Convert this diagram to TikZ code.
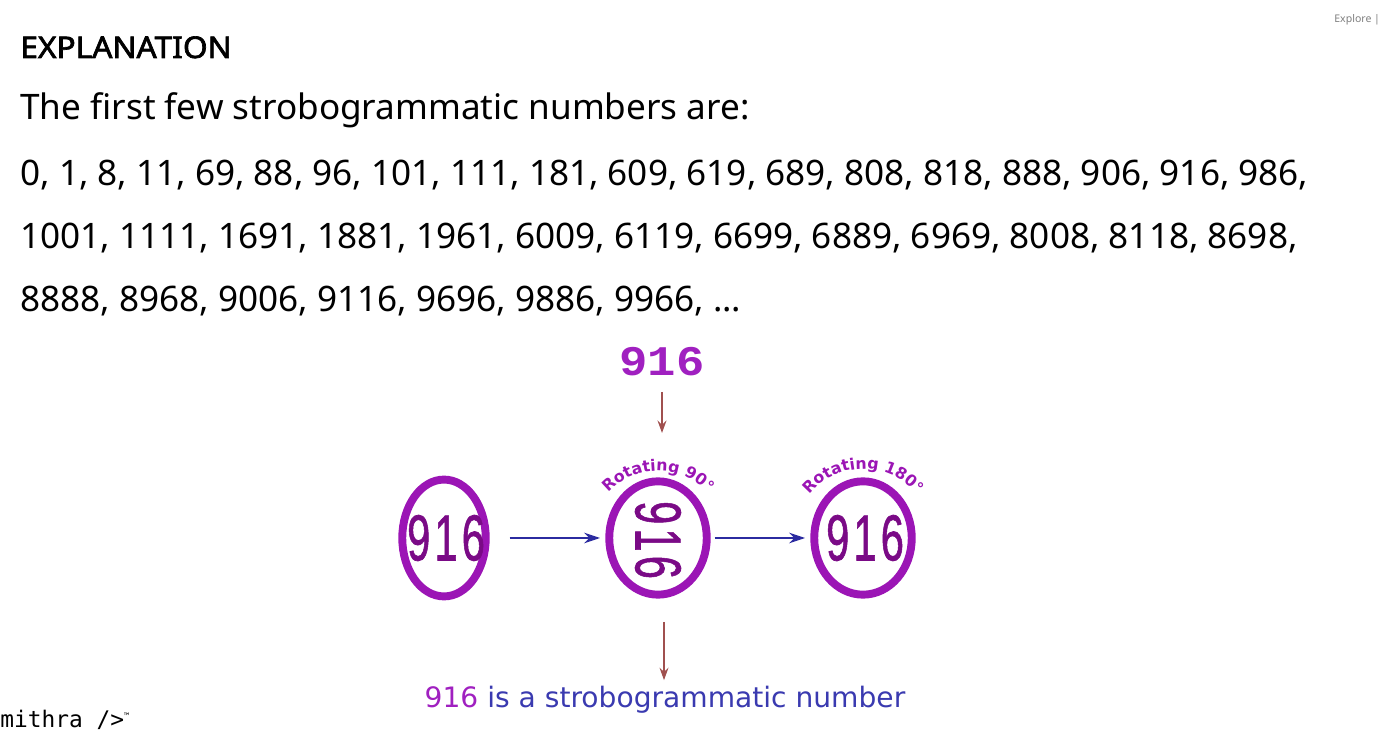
\documentclass[tikz,border=0pt]{standalone}
\usepackage{fontspec}
\setmainfont{Noto Sans}
\newfontfamily\headfont{Noto Sans}[FakeBold=2.2]
\newfontfamily\verdfont{DejaVu Sans}
\newfontfamily\monofont{DejaVu Sans Mono}
\newfontfamily\courfont{Liberation Mono}
\newfontfamily\ringfont{Liberation Sans}[LetterSpace=10,FakeBold=1.2]
\usetikzlibrary{positioning,arrows.meta,shapes.geometric,decorations.text}
\definecolor{ringpurple}{HTML}{9B15B5}
\definecolor{numpurple}{HTML}{7A0A86}
\definecolor{toppurple}{HTML}{A020C0}
\definecolor{arrowblue}{HTML}{2B2BA0}
\definecolor{arrowred}{HTML}{A0504F}
\definecolor{textblue}{HTML}{3A3AB0}
\newcommand{\ringnum}{\makebox[0pt]{\scalebox{0.64}[1]{\ringfont\fontsize{37}{37}\selectfont 916\kern-3.7pt}}}

\begin{document}
\begin{tikzpicture}[x=0.02cm,y=0.02cm,
    line/.style={anchor=base west,inner sep=0pt,font=\fontsize{20}{24}\selectfont},
    ring/.style={ellipse,draw=ringpurple,line width=4.5pt,fill=white,text=numpurple,inner sep=0pt,
      minimum width=55.5pt,minimum height=64.5pt},
    flow/.style={arrowblue,line width=1.3pt,-{Stealth[length=9pt,width=6pt]}},
    down/.style={arrowred,line width=1.2pt,-{Stealth[length=7pt,width=5pt]}}]
  \useasboundingbox (0,0) rectangle (1383,-742);

  \node (title) at (20,-58) [line,font=\headfont\fontsize{17}{20}\selectfont] {\scalebox{1.06}[1]{EXPLANATION}};
  \node (intro) at (20,-120) [line] {The first few strobogrammatic numbers are:};
  \node (row1) at (20,-186) [line] {0, 1, 8, 11, 69, 88, 96, 101, 111, 181, 609, 619, 689, 808, 818, 888, 906, 916, 986,};
  \node (row2) at (20,-249) [line] {1001, 1111, 1691, 1881, 1961, 6009, 6119, 6699, 6889, 6969, 8008, 8118, 8698,};
  \node (row3) at (20,-312) [line] {8888, 8968, 9006, 9116, 9696, 9886, 9966, ...};

  % rotation picture
  \node (top) at (662,-362) [text=toppurple,font=\courfont\bfseries\fontsize{24}{24}\selectfont] {\scalebox{1.12}[1]{916}};
  \node (start) at (444,-538) [ring,minimum width=47.5pt,minimum height=66.5pt] {\ringnum};
  \node (quarter) at (658,-538) [ring] {\rotatebox{-90}{\ringnum}};
  \node (half) at (863,-538) [ring] {\ringnum};
  \coordinate (into) at (662,-392);
  \coordinate (onto) at (662,-433);
  \coordinate (outof) at (664,-622);
  \node (result) at (665,-700) [text=textblue,font=\verdfont\fontsize{16}{18}\selectfont] {\textcolor{toppurple}{916} is a strobogrammatic number};

  \draw[down] (into) -- (onto);
  \draw[down] (outof) -- (outof |- result.north);
  \draw[flow] (start.east) ++(20,0) -- ([xshift=-3pt]quarter.west);
  \draw[flow] (quarter.east) ++(4,0) -- ([xshift=-3pt]half.west);

  \path[decorate,decoration={text along path,text align=center,
      text={|\verdfont\bfseries\fontsize{9}{9}\selectfont\color{ringpurple}|Rotating 90°}}]
      (quarter.center) ++(155:67) arc[start angle=155,end angle=25,radius=67];
  \path[decorate,decoration={text along path,text align=center,
      text={|\verdfont\bfseries\fontsize{9}{9}\selectfont\color{ringpurple}|Rotating 180°}}]
      (half.center) ++(158:69) arc[start angle=158,end angle=22,radius=69];

  % page leftovers
  \node (mark) at (0,-728) [anchor=base west,inner sep=0pt,font=\monofont\fontsize{13}{13}\selectfont] {mithra />\raisebox{5pt}{\fontsize{5}{5}\selectfont ™}};
  \node (menu) at (1334,-20) [anchor=west,inner sep=0pt,text=gray,font=\fontsize{6}{6}\selectfont] {Explore | Ex};
\end{tikzpicture}
\end{document}
